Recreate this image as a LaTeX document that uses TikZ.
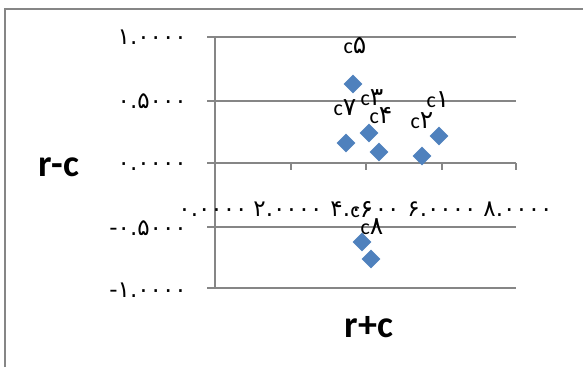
\documentclass[tikz,border=0pt]{standalone}
\usepackage{fontspec}
\setmainfont{Carlito}
\newfontfamily\fa{DejaVu Sans}
\usetikzlibrary{shapes.geometric}
\definecolor{gridgray}{HTML}{868686}
\definecolor{ptblue}{HTML}{4F81BD}
\newcommand{\fadig}[1]{{\fa\fontsize{25}{27}\selectfont #1}}
\begin{document}
\begin{tikzpicture}[x=1pt,y=-1pt,
  gridline/.style={draw=gridgray,line width=1.6pt},
  frameline/.style={draw=gridgray,line width=1.8pt},
  ptmark/.style={diamond,fill=ptblue,inner sep=0pt,minimum size=19pt},
  ylab/.style={anchor=base east,font=\fa\fontsize{23}{24}\selectfont,inner sep=0pt},
  xlab/.style={anchor=base,font=\fa\fontsize{23}{24}\selectfont,inner sep=0pt},
  dlab/.style={font=\fontsize{22}{24}\selectfont,inner sep=0pt},
  axtitle/.style={font=\bfseries\fontsize{38}{42}\selectfont,inner sep=0pt}]
\useasboundingbox (0,0) rectangle (583,367);
% outer frame
\draw[frameline] (5,367) -- (5,9) -- (583,9);
% gridlines
\foreach \yy in {37,101,227,288} \draw[gridline] (207,\yy) -- (516,\yy);
% axes
\coordinate (ytop) at (215,37);
\coordinate (ybot) at (215,288);
\coordinate (xl) at (207,163);
\coordinate (xr) at (516,163);
\draw[gridline] (ytop) -- (ybot);
\draw[gridline] (xl) -- (xr);
\foreach \xx in {291,366,442,516} \draw[gridline] (\xx,163) -- (\xx,170);
% y labels
\node[ylab] (yl1) at (187,44) {۱.۰۰۰۰};
\node[ylab] (yl2) at (187,108) {۰.۵۰۰۰};
\node[ylab] (yl3) at (187,170) {۰.۰۰۰۰};
\node[ylab] (yl4) at (187,235) {-۰.۵۰۰۰};
\node[ylab] (yl5) at (187,297) {-۱.۰۰۰۰};
% x labels
\node[xlab] (xl0) at (213,216) {۰.۰۰۰۰};
\node[xlab] (xl2) at (288,216) {۲.۰۰۰۰};
\node[xlab] (xl4) at (365,216) {۴.۰۰۰۰};
\node[xlab] (xl6) at (442,216) {۶.۰۰۰۰};
\node[xlab] (xl8) at (518,216) {۸.۰۰۰۰};
% axis titles
\node[axtitle] (ty) at (59,167) {r-c};
\node[axtitle] (tx) at (369,327) {r+c};
% data points
\node[ptmark] (p5) at (353,84) {};
\node[ptmark] (p7) at (346,143) {};
\node[ptmark] (p3) at (369,133) {};
\node[ptmark] (p4) at (379,152) {};
\node[ptmark] (p2) at (422,156) {};
\node[ptmark] (p1) at (439,136) {};
\node[ptmark] (p6) at (362,242) {};
\node[ptmark] (p8) at (371,259) {};
% data labels
\node[dlab] (l5) at (355,46) {c\fadig{۵}};
\node[dlab] (l7) at (345,108) {c\fadig{۷}};
\node[dlab] (l3) at (372,98) {c\fadig{۳}};
\node[dlab] (l4) at (381,116) {c\fadig{۴}};
\node[dlab] (l2) at (422,121) {c\fadig{۲}};
\node[dlab] (l1) at (438,100) {c\fadig{۱}};
\node[dlab] (l6) at (362,210) {c\fadig{۶}};
\node[dlab] (l8) at (372,227) {c\fadig{۸}};
\end{tikzpicture}
\end{document}
